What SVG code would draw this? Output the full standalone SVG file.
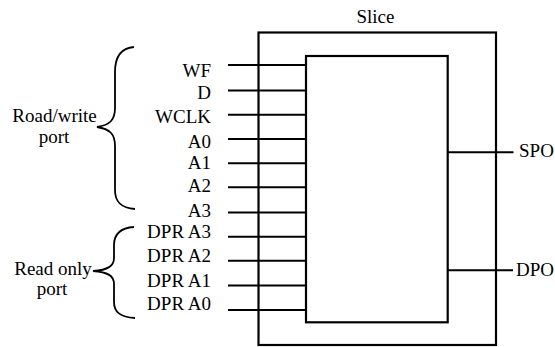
<svg xmlns="http://www.w3.org/2000/svg" width="555" height="347" viewBox="0 0 555 347">
<style>
text{font-family:'Liberation Serif','Times New Roman',serif;font-size:19px;fill:#000}
.r{text-anchor:end}
.m{text-anchor:middle}
.box{fill:none;stroke:#000;stroke-width:2.2}
.w{stroke:#000;stroke-width:2;fill:none}
.br{stroke:#000;stroke-width:1.8;fill:none}
</style>
<rect width="555" height="347" fill="#fff"/>
<g id="slice">
<rect class="box" x="258.5" y="32.5" width="237.5" height="312.5"/>
<text class="m" x="375.5" y="22.7">Slice</text>
</g>
<g id="core">
<rect class="box" x="306" y="56" width="141.7" height="266.3"/>
</g>
<g id="rw-port">
<path class="br" d="M134,47 C121,48 115,56 115,72 L115,108 C115,120 110,125 97,127 C110,129 115,134 115,146 L115,190 C115,202 121,208 135,209"/>
<text class="m" x="54.5" y="121.7">Road/write</text>
<text class="m" x="54" y="142.5">port</text>
</g>
<g id="ro-port">
<path class="br" d="M134,227 C120,228 114,234 114,245 L114,258 C114,266 108,270 93,271 C108,272 114,276 114,284 L114,302 C114,312 120,317 135,318"/>
<text class="m" x="53" y="275">Read only</text>
<text class="m" x="52" y="295">port</text>
</g>
<g id="inputs">
<text class="r" x="211" y="77.3">WF</text>
<text class="r" x="211" y="98.8">D</text>
<text class="r" x="211" y="123.3">WCLK</text>
<text class="r" x="211" y="148">A0</text>
<text class="r" x="211" y="168.5">A1</text>
<text class="r" x="211" y="191.7">A2</text>
<text class="r" x="211" y="216.5">A3</text>
<text class="r" x="211" y="237.5">DPR A3</text>
<text class="r" x="211" y="261.7">DPR A2</text>
<text class="r" x="211" y="286.5">DPR A1</text>
<text class="r" x="211" y="310">DPR A0</text>
</g>
<g id="outputs">
<text x="519" y="157.3">SPO</text>
<text x="516" y="275.7">DPO</text>
</g>
<g id="connectors">
<line class="w" x1="228" y1="65" x2="306" y2="65"/>
<line class="w" x1="228" y1="90.5" x2="306" y2="90.5"/>
<line class="w" x1="228" y1="114.7" x2="306" y2="114.7"/>
<line class="w" x1="228" y1="139" x2="306" y2="139"/>
<line class="w" x1="228" y1="163.3" x2="306" y2="163.3"/>
<line class="w" x1="228" y1="187.3" x2="306" y2="187.3"/>
<line class="w" x1="228" y1="212.5" x2="306" y2="212.5"/>
<line class="w" x1="228" y1="236.7" x2="306" y2="236.7"/>
<line class="w" x1="228" y1="260.7" x2="306" y2="260.7"/>
<line class="w" x1="228" y1="285.5" x2="306" y2="285.5"/>
<line class="w" x1="228" y1="310" x2="306" y2="310"/>
<line class="w" x1="447.7" y1="152.3" x2="513.5" y2="152.3"/>
<line class="w" x1="447.7" y1="270.3" x2="513" y2="270.3"/>
</g>
</svg>
